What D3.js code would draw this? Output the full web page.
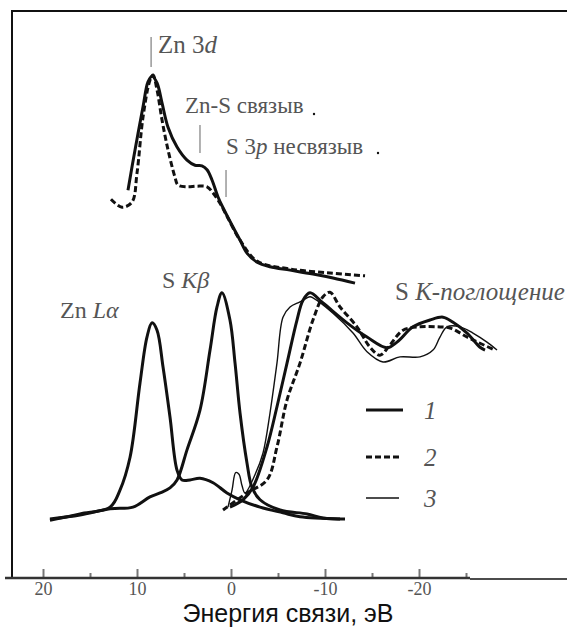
<!DOCTYPE html>
<html>
<head>
<meta charset="utf-8">
<script src="https://cdn.jsdelivr.net/npm/d3@7"></script>
<style>
  body { margin: 0; background: #fff; }
  svg { display: block; }
  .lbl { font-family: "Liberation Serif", "DejaVu Serif", serif; fill: #555; }
</style>
</head>
<body>
<svg id="chart" width="567" height="637"></svg>
<script>
// energy (eV), intensity (arb. units)
const valence1 = [[10.96,68.4],[10.21,75.5],[9.36,83.1],[8.83,87.5],[8.40,88.5],[7.87,87.3],[7.34,83.8],[6.70,79.5],[5.74,76.0],[4.68,73.7],[3.83,72.8],[3.09,72.7],[2.55,72.0],[2.02,70.2],[1.38,67.2],[0.85,65.3],[-0.21,61.9],[-0.96,59.6],[-1.70,57.3],[-2.77,55.7],[-4.15,54.9],[-6.28,54.3],[-8.72,53.6],[-10.85,52.9],[-13.19,52.0]];
const valence2 = [[12.77,66.8],[11.60,65.4],[10.53,66.3],[10.0,71.4],[9.36,81.3],[8.62,87.8],[8.30,88.7],[7.87,86.1],[7.34,80.8],[6.70,75.5],[5.96,70.7],[5.64,69.3],[4.68,69.0],[3.62,69.1],[2.55,69.0],[1.91,67.9],[1.17,66.1],[0.43,63.8],[-0.96,59.6],[-2.77,55.9],[-6.28,54.5],[-10.53,53.8],[-14.26,53.3]];
const znLa = [[19.26,10.2],[16.06,11.3],[12.87,12.5],[11.81,15.5],[10.74,21.3],[9.68,34.4],[8.94,42.5],[8.40,45.0],[7.87,43.7],[7.23,37.2],[6.49,28.4],[5.74,19.0],[5.21,17.3],[4.36,17.3],[3.30,17.6],[1.91,16.8],[0.43,15.0],[-0.96,13.8],[-3.09,12.5],[-5.53,11.5],[-7.34,10.8],[-11.60,10.4]];
const sKb = [[19.26,10.4],[16.06,11.1],[12.87,12.2],[10.43,12.5],[8.62,14.3],[7.55,15.0],[6.49,15.9],[5.74,17.3],[4.68,22.6],[3.30,29.6],[2.23,40.2],[1.49,47.8],[0.96,50.3],[0.11,45.5],[-0.43,37.9],[-0.96,29.1],[-1.70,20.3],[-2.23,16.0],[-3.09,13.8],[-5.21,12.0],[-8.09,11.3],[-9.79,10.6],[-12.13,10.4]];
const absorb1 = [[0.11,12.5],[-1.28,13.8],[-2.34,16.0],[-3.83,23.1],[-4.89,30.2],[-5.96,37.9],[-7.02,45.5],[-7.66,49.0],[-8.40,50.3],[-9.79,48.5],[-12.34,45.0],[-14.47,42.5],[-16.60,40.6],[-17.66,41.6],[-19.36,44.3],[-21.17,45.5],[-22.55,46.0],[-23.62,45.1],[-25.11,43.2],[-26.49,40.7],[-27.02,40.2]];
const absorb2 = [[0.85,12.0],[-1.70,15.0],[-3.83,17.3],[-4.89,23.1],[-5.96,31.4],[-7.34,37.9],[-8.72,45.5],[-9.79,49.6],[-10.53,50.4],[-11.60,47.8],[-13.40,44.3],[-14.79,40.7],[-15.85,39.3],[-16.91,41.1],[-18.30,43.7],[-20.11,44.3],[-21.91,44.3],[-23.30,44.1],[-25.11,42.5],[-26.49,41.4],[-28.09,40.2]];
const absorb3 = [[0.32,12.5],[-0.11,15.5],[-0.50,18.6],[-0.85,18.3],[-1.17,16.3],[-1.49,15.0],[-2.55,18.2],[-3.40,22.0],[-4.15,29.1],[-4.89,37.9],[-5.53,46.0],[-6.28,47.8],[-7.34,48.7],[-8.40,49.6],[-8.72,49.4],[-10.85,46.7],[-12.98,43.2],[-14.47,39.9],[-16.17,38.1],[-17.98,39.0],[-20.11,39.0],[-21.49,40.2],[-22.23,42.5],[-22.98,44.3],[-24.36,44.3],[-25.74,43.2],[-27.23,41.6],[-28.30,40.2]];

const majorTicks = [20, 10, 0, -10, -20];
const minorTicks = [15, 5, -5, -15, -25];
const legendItems = ["1", "2", "3"];

const svg = d3.select("#chart");

const x = d3.scaleLinear().domain([20, -20]).range([43, 419]);
const y = d3.scaleLinear().domain([0, 100]).range([578, 11]);

const line = d3.line()
  .x(d => x(d[0]))
  .y(d => y(d[1]))
  .curve(d3.curveCatmullRom.alpha(0.5));

// frame
svg.append("line").attr("x1", 12).attr("x2", 12).attr("y1", 10).attr("y2", 578)
  .attr("stroke", "#111").attr("stroke-width", 2);
svg.append("line").attr("x1", 11).attr("x2", 567).attr("y1", 11).attr("y2", 11)
  .attr("stroke", "#111").attr("stroke-width", 2);

// axis
const axisG = svg.append("g").attr("transform", "translate(0,578)");
axisG.call(d3.axisBottom(x).tickValues(majorTicks).tickSizeInner(-9).tickSizeOuter(0).tickPadding(4)
  .tickFormat(d => d));
axisG.select(".domain").remove();
axisG.selectAll(".tick line").attr("stroke", "#777").attr("stroke-width", 2);
axisG.selectAll(".tick text")
  .attr("font-family", "'Liberation Serif', serif").attr("font-size", 18).attr("fill", "#555");

const minorG = svg.append("g").attr("transform", "translate(0,578)");
minorG.call(d3.axisBottom(x).tickValues(minorTicks).tickSizeInner(-5).tickSizeOuter(0).tickFormat(""));
minorG.select(".domain").remove();
minorG.selectAll(".tick line").attr("stroke", "#777").attr("stroke-width", 2);

svg.append("line").attr("x1", 5).attr("x2", 470).attr("y1", 578).attr("y2", 578)
  .attr("stroke", "#333").attr("stroke-width", 2.5);
svg.append("line").attr("x1", 470).attr("x2", 567).attr("y1", 579).attr("y2", 579)
  .attr("stroke", "#111").attr("stroke-width", 1.5);

svg.append("text")
  .attr("x", 288).attr("y", 622).attr("text-anchor", "middle")
  .attr("font-family", "'Liberation Sans', Arial, sans-serif").attr("font-size", 25).attr("fill", "#111")
  .text("Энергия связи, эВ");

// curves
const thick = 3;
const dashed = "6,3";
function draw(data, width, dash) {
  svg.append("path").datum(data)
    .attr("d", line)
    .attr("fill", "none")
    .attr("stroke", "#111")
    .attr("stroke-width", width)
    .attr("stroke-linejoin", "round")
    .attr("stroke-dasharray", dash || null);
}
draw(znLa, thick);
draw(sKb, thick);
draw(valence2, thick, dashed);
draw(valence1, thick);
draw(absorb3, 1.4);
draw(absorb2, thick, dashed);
draw(absorb1, thick);

// marker lines
const markers = [[8.5, 37, 67], [3.3, 125, 153], [0.53, 170, 197]];
svg.selectAll(".mk").data(markers).enter().append("line")
  .attr("x1", d => x(d[0])).attr("x2", d => x(d[0]))
  .attr("y1", d => d[1]).attr("y2", d => d[2])
  .attr("stroke", "#888").attr("stroke-width", 1.3);

function label(xp, yp, size, parts) {
  const t = svg.append("text").attr("class", "lbl").attr("x", xp).attr("y", yp).attr("font-size", size);
  parts.forEach(p => t.append("tspan").attr("font-style", p[1] ? "italic" : "normal").text(p[0]));
  return t;
}
label(158, 53, 25, [["Zn 3", 0], ["d", 1]]);
label(185, 113, 23, [["Zn-S связыв", 0]]);
label(226, 154, 23, [["S 3", 0], ["p", 1], [" несвязыв", 0]]);
label(60, 318, 24, [["Zn ", 0], ["L", 1], ["α", 1]]);
label(162, 288, 24, [["S ", 0], ["Kβ", 1]]);
label(395, 300, 25, [["S ", 0], ["K-поглощение", 1]]);
svg.append("circle").attr("cx", 314).attr("cy", 114).attr("r", 1.2).attr("fill", "#111");
svg.append("circle").attr("cx", 378).attr("cy", 153).attr("r", 1.2).attr("fill", "#111");

// legend
const legY = [410, 457, 498];
const leg = svg.selectAll(".leg").data(legendItems).enter().append("g")
  .attr("transform", (d, i) => `translate(366,${legY[i]})`);
leg.append("line").attr("x1", 0).attr("x2", (d, i) => i === 0 ? 37 : 33)
  .attr("stroke", "#111")
  .attr("stroke-width", (d, i) => i === 2 ? 1.4 : thick)
  .attr("stroke-dasharray", (d, i) => i === 1 ? dashed : null);
leg.append("text").attr("class", "lbl").attr("x", 58).attr("y", 9)
  .attr("font-size", 25).attr("font-style", "italic").text(d => d);
</script>
</body>
</html>
